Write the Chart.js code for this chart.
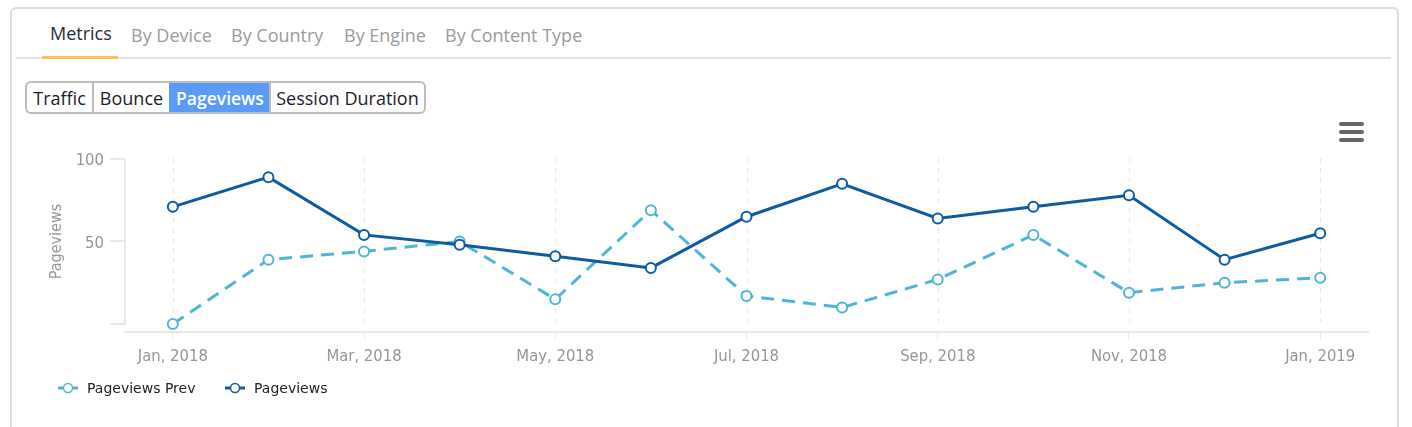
<!DOCTYPE html>
<html>
<head>
<meta charset="utf-8">
<script src="https://cdn.jsdelivr.net/npm/chart.js@4/dist/chart.umd.min.js"></script>
<style>
html, body { margin: 0; padding: 0; background: #fff; width: 1412px; height: 427px; overflow: hidden; }
#card { position: absolute; left: 10px; top: 7px; width: 1385px; height: 440px; border: 2px solid #dcdcdc; border-radius: 6px; box-sizing: content-box; }
#tabline { position: absolute; left: 16px; top: 57px; width: 1375px; height: 2px; background: #e2e2e2; }
#tabunder { position: absolute; left: 42px; top: 56px; width: 76px; height: 3px; background: #fbbd5e; }
.tab { position: absolute; top: 23px; font: 18px "Open Sans", sans-serif; color: #9b9b9b; white-space: nowrap; line-height: 24px; }
.tab.on { color: #2b2b33; top: 21px; }
#btns { position: absolute; left: 25px; top: 81px; width: 397px; height: 29px; display: flex; border: 2px solid #bdbdbd; border-radius: 6px; overflow: hidden; font: 18px "Open Sans", sans-serif; color: #1c1c28; }
#btns div { height: 29px; line-height: 31px; text-align: center; border-left: 2px solid #bdbdbd; white-space: nowrap; box-sizing: border-box; }
#btns div:first-child { border-left: 0; }
#btns div.on { background: #5b9bf8; color: #fff; font-weight: 600; font-size: 17.5px; border-left-color: #5b9bf8; }
#menu { position: absolute; left: 1339px; top: 121.5px; width: 25px; }
#menu div { height: 4.5px; background: #666; border-radius: 2px; margin-bottom: 3.5px; }
#wrap { position: absolute; left: 0; top: 140px; width: 1412px; height: 240px; }
#legend { position: absolute; left: 58px; top: 379px; font: 14px "DejaVu Sans", sans-serif; color: #222; height: 18px; }
.item { position: absolute; top: 0; white-space: nowrap; line-height: 18px; }
.item svg { position: absolute; left: 0; top: 2px; }
.item span { position: absolute; top: 0; left: 29px; }
</style>
</head>
<body>
<div id="card"></div>
<div id="tabline"></div>
<div id="tabunder"></div>
<div class="tab on" style="left:50px">Metrics</div>
<div class="tab" style="left:131px">By Device</div>
<div class="tab" style="left:231px">By Country</div>
<div class="tab" style="left:344px">By Engine</div>
<div class="tab" style="left:445px">By Content Type</div>
<div id="btns"><div style="width:65px">Traffic</div><div style="width:77px">Bounce</div><div class="on" style="width:100px">Pageviews</div><div style="width:155px">Session Duration</div></div>
<div id="menu"><div></div><div></div><div></div></div>
<div id="wrap"><canvas id="chart"></canvas></div>
<div id="legend"></div>
<script>
const months = ['Jan, 2018', 'Feb, 2018', 'Mar, 2018', 'Apr, 2018', 'May, 2018', 'Jun, 2018', 'Jul, 2018',
    'Aug, 2018', 'Sep, 2018', 'Oct, 2018', 'Nov, 2018', 'Dec, 2018', 'Jan, 2019'];
const pageviewsPrev = [0, 39, 44, 50, 15, 69, 17, 10, 27, 54, 19, 25, 28];
const pageviews = [71, 89, 54, 48, 41, 34, 65, 85, 64, 71, 78, 39, 55];
const yTicks = [0, 50, 100];
const yLabels = { 50: '50', 100: '100' };

const prevColor = '#4fb5d6';
const mainColor = '#0d5ba1';
const axisColor = '#e8e8e8';
const labelColor = '#9a9494';
const labelFont = { family: '"DejaVu Sans Condensed", "DejaVu Sans", sans-serif', size: 16.5 };

// y axis line, dashed month lines and the rotated title stop short of the x axis
const decorations = {
    id: 'decorations',
    beforeDatasetsDraw(chart) {
        const { ctx, scales: { x, y } } = chart;
        const top = y.getPixelForValue(100), zero = y.getPixelForValue(0);
        ctx.save();
        ctx.strokeStyle = axisColor;
        ctx.lineWidth = 1;
        ctx.setLineDash([5, 5]);
        x.ticks.forEach(t => {
            const px = Math.round(x.getPixelForValue(t.value)) + 0.5;
            ctx.beginPath();
            ctx.moveTo(px, top - 1);
            ctx.lineTo(px, zero - 2);
            ctx.stroke();
        });
        ctx.setLineDash([]);
        ctx.lineWidth = 2;
        ctx.beginPath();
        ctx.moveTo(x.left, top);
        ctx.lineTo(x.left, zero + 1);
        ctx.stroke();
        ctx.translate(57, y.getPixelForValue(50));
        ctx.rotate(-Math.PI / 2);
        ctx.fillStyle = labelColor;
        ctx.font = '16px ' + labelFont.family;
        ctx.textAlign = 'center';
        ctx.textBaseline = 'middle';
        ctx.fillText('Pageviews', 0, 0);
        ctx.restore();
    }
};

new Chart(document.getElementById('chart'), {
    type: 'line',
    plugins: [decorations],
    data: {
        labels: months,
        datasets: [
            {
                label: 'Pageviews Prev',
                data: pageviewsPrev,
                borderColor: prevColor,
                borderWidth: 3,
                borderDash: [13, 8],
                pointRadius: 5,
                pointBorderWidth: 2,
                pointBackgroundColor: '#fff',
                pointBorderColor: prevColor,
                tension: 0,
                order: 2
            },
            {
                label: 'Pageviews',
                data: pageviews,
                borderColor: mainColor,
                borderWidth: 3,
                pointRadius: 5,
                pointBorderWidth: 2,
                pointBackgroundColor: '#fff',
                pointBorderColor: mainColor,
                tension: 0,
                order: 1
            }
        ]
    },
    options: {
        responsive: true,
        maintainAspectRatio: false,
        animation: false,
        layout: { padding: { top: 19, right: 44, left: 0, bottom: 0 } },
        plugins: { legend: { display: false }, tooltip: { enabled: false } },
        scales: {
            x: {
                offset: true,
                afterBuildTicks: scale => { scale.ticks = scale.ticks.filter((t, i) => i % 2 === 0); },
                afterFit: scale => { scale.height = 48; },
                border: { color: axisColor, width: 2 },
                grid: { drawOnChartArea: false, drawTicks: true, tickLength: 8, color: axisColor, offset: false },
                ticks: { autoSkip: false, maxRotation: 0, color: labelColor, font: labelFont, padding: 7 }
            },
            y: {
                min: -4.85,
                max: 100,
                afterBuildTicks: scale => { scale.ticks = yTicks.map(v => ({ value: v })); },
                afterFit: scale => { scale.width = 125; },
                border: { display: false },
                grid: { drawOnChartArea: false, drawTicks: true, tickLength: 15, color: axisColor, lineWidth: 2 },
                ticks: { color: labelColor, font: { family: labelFont.family, size: 16.5 }, padding: 6, labelOffset: 2, callback: v => yLabels[v] || '' }
            }
        }
    }
});

// legend below the chart, built from the same series
const legend = document.getElementById('legend');
[['Pageviews Prev', prevColor, 0], ['Pageviews', mainColor, 167]].forEach(([name, color, left]) => {
    const item = document.createElement('div');
    item.className = 'item';
    item.style.left = left + 'px';
    item.innerHTML = `<svg width="22" height="14"><line x1="0" y1="7" x2="20" y2="7" stroke="${color}" stroke-width="3"/>` +
        `<circle cx="10" cy="7" r="4.5" fill="#fff" stroke="${color}" stroke-width="1.5"/></svg><span>${name}</span>`;
    legend.appendChild(item);
});
</script>
</body>
</html>
